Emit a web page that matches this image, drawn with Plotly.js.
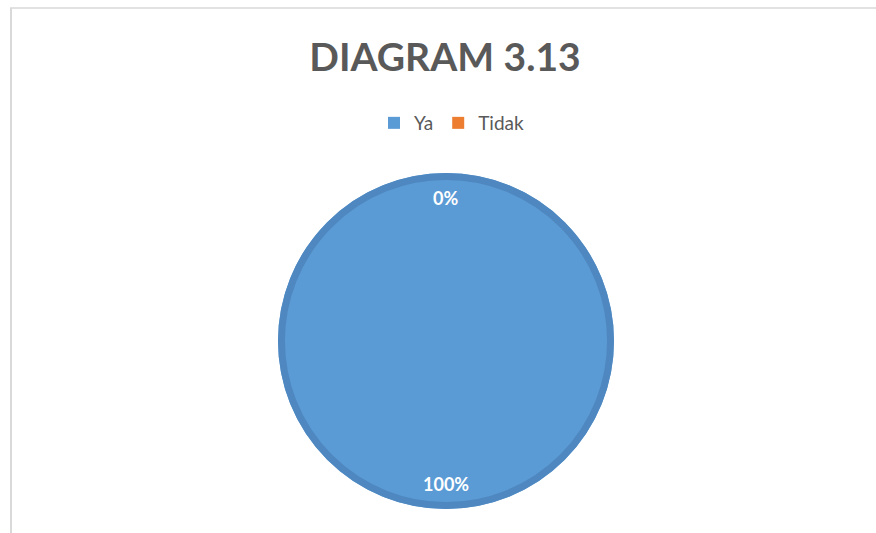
<!DOCTYPE html>
<html>
<head>
<meta charset="utf-8">
<script src="https://cdn.plot.ly/plotly-3.0.1.min.js"></script>
<style>html,body{margin:0;padding:0;background:#fff;}#chart{width:876px;height:533px;}</style>
</head>
<body>
<div id="chart"></div>
<script>
const categories = ["Ya", "Tidak"];
const values = [100, 0];
const labelsText = ["100%", "0%"];
const colors = ["#5B9BD5", "#ED7D31"];

const W = 876, H = 533;
const cx = 446, cy = 341, R = 168;
const ringW = 7;
const domX = [(cx - R) / W, (cx + R) / W];
const domY = [1 - (cy + R) / H, 1 - (cy - R) / H];

// label positions computed from the data (clockwise from 12 o'clock)
const total = values.reduce((a, b) => a + b, 0);
let cum = 0;
const annotations = [];
values.forEach((v, i) => {
  const mid = (cum + v / 2) / total * 2 * Math.PI;
  cum += v;
  const r = R * 0.85;
  const px = cx + r * Math.sin(mid);
  const py = cy - r * Math.cos(mid);
  annotations.push({
    text: "<b>" + labelsText[i] + "</b>",
    x: px / W, y: 1 - py / H, xref: "paper", yref: "paper",
    showarrow: false, xanchor: "center", yanchor: "middle",
    font: {family: "Lato, 'Open Sans', sans-serif", size: 18, color: "#ffffff"}
  });
});

const trace = {
  type: "pie",
  labels: categories,
  values: values,
  sort: false,
  direction: "clockwise",
  rotation: 0,
  textinfo: "none",
  hoverinfo: "label+percent",
  marker: {colors: colors, line: {width: 0}},
  domain: {x: domX, y: domY},
  showlegend: true
};

const rr = R - ringW / 2;
const layout = {
  width: W, height: H,
  margin: {l: 0, r: 0, t: 0, b: 0},
  paper_bgcolor: "#ffffff",
  title: {
    text: "<b>DIAGRAM 3.13</b>",
    x: 445 / W, xanchor: "center", xref: "paper",
    y: 1 - 57 / H, yanchor: "middle", yref: "paper",
    font: {family: "Lato, 'Open Sans', sans-serif", size: 39, color: "#595959"}
  },
  legend: {
    orientation: "h", x: 452 / W, xanchor: "center",
    y: 1 - 123 / H, yanchor: "middle",
    font: {family: "Lato, 'Open Sans', sans-serif", size: 19, color: "#595959"},
    traceorder: "normal"
  },
  annotations: annotations,
  shapes: [
    {type: "circle", xref: "paper", yref: "paper",
     x0: (cx - rr) / W, x1: (cx + rr) / W, y0: 1 - (cy + rr) / H, y1: 1 - (cy - rr) / H,
     line: {color: "#4F88C0", width: ringW}, fillcolor: "rgba(0,0,0,0)", layer: "above"},
    {type: "line", xref: "paper", yref: "paper", x0: 10 / W, x1: 1, y0: 1 - 8 / H, y1: 1 - 8 / H, line: {color: "#d9d9d9", width: 1.5}},
    {type: "line", xref: "paper", yref: "paper", x0: 11 / W, x1: 11 / W, y0: 0, y1: 1 - 8 / H, line: {color: "#d9d9d9", width: 2}}
  ]
};

Plotly.newPlot("chart", [trace], layout, {displayModeBar: false, staticPlot: true});
</script>
</body>
</html>
